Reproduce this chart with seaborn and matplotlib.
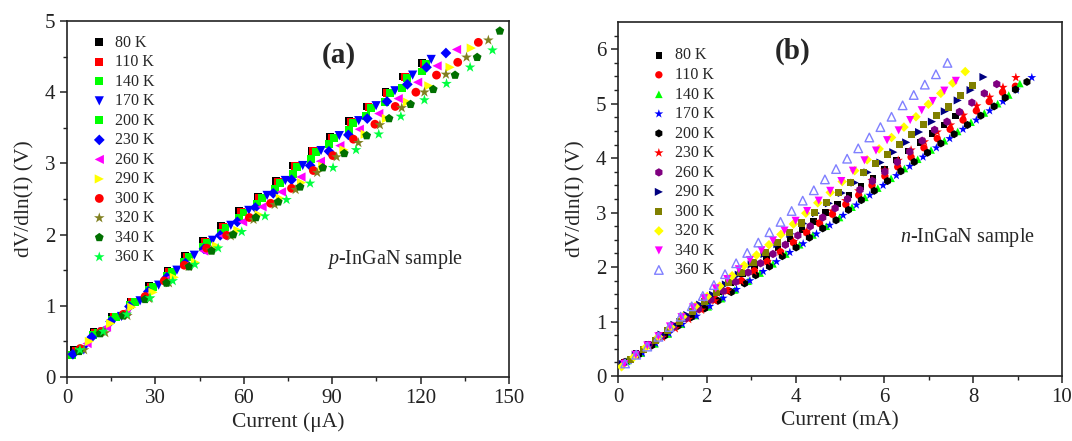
import numpy as np
import pandas as pd
import matplotlib
matplotlib.use("Agg")
import matplotlib.pyplot as plt
import seaborn as sns

# ---------------- panel (a): p-InGaN, current in uA ----------------
temps = ['80 K', '110 K', '140 K', '170 K', '200 K', '230 K',
         '260 K', '290 K', '300 K', '320 K', '340 K', '360 K']

a80_x = [2.5, 9.0, 15.3, 21.6, 27.9, 34.1, 40.0, 46.2, 52.4, 58.5, 64.7, 70.9, 76.8, 83.0, 89.2, 95.8, 101.7, 108.1, 114.1, 120.4]
a80_y = [0.38, 0.63, 0.85, 1.06, 1.28, 1.49, 1.70, 1.91, 2.12, 2.33, 2.53, 2.75, 2.97, 3.18, 3.37, 3.59, 3.80, 4.00, 4.22, 4.41]
a110_x = [3.1, 9.6, 15.9, 22.2, 28.5, 34.7, 40.6, 46.8, 53.0, 59.1, 65.3, 71.5, 77.4, 83.6, 89.8, 96.4, 102.3, 108.7, 114.7, 121.0]
a110_y = [0.37, 0.62, 0.84, 1.05, 1.27, 1.48, 1.69, 1.90, 2.11, 2.32, 2.52, 2.74, 2.96, 3.17, 3.36, 3.58, 3.79, 3.99, 4.21, 4.40]
a140_x = [3.9, 10.4, 16.7, 23.0, 29.3, 35.5, 41.4, 47.6, 53.8, 59.9, 66.1, 72.3, 78.2, 84.4, 90.6, 97.2, 103.1, 109.5, 115.5, 121.8]
a140_y = [0.37, 0.62, 0.84, 1.05, 1.26, 1.47, 1.68, 1.89, 2.10, 2.31, 2.52, 2.73, 2.95, 3.16, 3.36, 3.57, 3.78, 3.99, 4.20, 4.40]
a170_x = [5.7, 12.2, 18.5, 24.8, 31.1, 37.3, 43.2, 49.4, 55.6, 61.7, 67.9, 74.1, 80.0, 86.2, 92.4, 99.0, 104.9, 111.3, 117.3, 123.6]
a170_y = [0.38, 0.63, 0.85, 1.07, 1.29, 1.50, 1.71, 1.92, 2.13, 2.34, 2.55, 2.76, 2.97, 3.18, 3.39, 3.60, 3.81, 4.02, 4.24, 4.46]
a200_x = [1.6, 8.8, 15.1, 21.4, 27.7, 33.9, 39.8, 46.0, 52.2, 58.3, 64.5, 70.7, 76.6, 82.8, 89.0, 95.6, 101.5, 107.9, 113.6, 120.4]
a200_y = [0.31, 0.59, 0.80, 1.01, 1.22, 1.42, 1.62, 1.82, 2.02, 2.23, 2.43, 2.64, 2.85, 3.06, 3.27, 3.47, 3.67, 3.86, 4.06, 4.29]
a230_x = [2.0, 8.4, 14.8, 21.2, 27.6, 33.9, 40.2, 46.5, 52.0, 57.8, 63.9, 70.0, 76.2, 82.5, 88.9, 95.5, 101.9, 108.6, 115.5, 122.0, 128.6]
a230_y = [0.32, 0.56, 0.78, 0.99, 1.20, 1.40, 1.60, 1.80, 1.99, 2.18, 2.38, 2.58, 2.77, 2.97, 3.17, 3.40, 3.63, 3.87, 4.11, 4.35, 4.55]
a260_x = [6.8, 13.4, 20.0, 26.6, 33.2, 39.8, 46.4, 53.0, 59.6, 66.2, 72.8, 79.4, 86.0, 92.6, 99.2, 105.8, 112.4, 119.0, 125.6, 132.2]
a260_y = [0.47, 0.70, 0.92, 1.14, 1.36, 1.56, 1.77, 1.98, 2.18, 2.39, 2.60, 2.81, 3.03, 3.25, 3.48, 3.70, 3.91, 4.14, 4.37, 4.60]
a290_x = [7.6, 14.8, 22.0, 29.2, 36.4, 43.6, 50.8, 58.0, 65.2, 72.4, 79.6, 86.8, 94.0, 101.2, 108.4, 115.6, 122.8, 130.0, 137.2]
a290_y = [0.50, 0.75, 0.98, 1.19, 1.40, 1.61, 1.84, 2.06, 2.28, 2.51, 2.73, 2.96, 3.19, 3.41, 3.63, 3.86, 4.09, 4.35, 4.62]
a300_x = [4.5, 11.5, 19.1, 26.5, 33.0, 39.8, 47.4, 54.2, 61.9, 69.1, 76.2, 83.6, 90.2, 97.2, 104.5, 111.4, 118.4, 125.4, 132.6, 139.6]
a300_y = [0.40, 0.64, 0.88, 1.13, 1.35, 1.57, 1.81, 1.99, 2.24, 2.44, 2.65, 2.90, 3.11, 3.34, 3.55, 3.80, 4.00, 4.24, 4.42, 4.70]
a320_x = [5.8, 13.0, 20.5, 27.9, 34.6, 41.3, 48.9, 55.6, 63.3, 70.5, 77.6, 84.9, 91.5, 98.9, 106.2, 113.6, 121.3, 128.6, 135.6, 143.0]
a320_y = [0.38, 0.62, 0.86, 1.10, 1.32, 1.55, 1.78, 1.98, 2.21, 2.42, 2.63, 2.87, 3.09, 3.29, 3.54, 3.78, 4.00, 4.25, 4.49, 4.73]
a340_x = [4.1, 11.2, 19.1, 26.5, 33.8, 41.5, 49.1, 56.4, 64.1, 71.7, 79.1, 86.8, 94.1, 101.7, 109.3, 116.6, 124.3, 131.7, 139.2, 146.9]
a340_y = [0.36, 0.61, 0.86, 1.09, 1.32, 1.55, 1.77, 2.00, 2.24, 2.46, 2.67, 2.94, 3.14, 3.39, 3.63, 3.83, 4.04, 4.24, 4.49, 4.86]
a360_x = [4.4, 12.3, 20.3, 28.2, 35.9, 43.4, 51.3, 59.3, 67.2, 74.5, 82.5, 90.3, 98.1, 105.8, 113.3, 121.3, 128.8, 136.8, 144.4]
a360_y = [0.38, 0.64, 0.88, 1.11, 1.35, 1.58, 1.81, 2.04, 2.26, 2.49, 2.72, 2.94, 3.19, 3.41, 3.66, 3.89, 4.12, 4.35, 4.59]

# ---------------- panel (b): n-InGaN, current in mA ----------------
b80_x = [0.14, 0.40, 0.67, 0.94, 1.20, 1.47, 1.74, 2.00, 2.27, 2.54, 2.80, 3.07, 3.34, 3.60, 3.87, 4.14, 4.40, 4.67, 4.94, 5.20, 5.47, 5.74, 6.00, 6.27, 6.54, 6.80, 7.07, 7.34, 7.60]
b80_y = [0.26, 0.42, 0.58, 0.74, 0.90, 1.06, 1.23, 1.38, 1.55, 1.71, 1.87, 2.03, 2.19, 2.35, 2.52, 2.68, 2.84, 3.00, 3.16, 3.32, 3.48, 3.64, 3.80, 3.97, 4.13, 4.29, 4.45, 4.61, 4.77]
b110_x = [0.13, 0.43, 0.72, 1.01, 1.31, 1.60, 1.89, 2.19, 2.48, 2.78, 3.07, 3.36, 3.66, 3.95, 4.25, 4.54, 4.83, 5.13, 5.42, 5.72, 6.01, 6.30, 6.60, 6.89, 7.19, 7.48, 7.77, 8.07, 8.36, 8.66, 8.95]
b110_y = [0.25, 0.39, 0.56, 0.74, 0.92, 1.08, 1.24, 1.41, 1.57, 1.75, 1.93, 2.10, 2.28, 2.45, 2.63, 2.80, 2.97, 3.15, 3.32, 3.50, 3.67, 3.84, 4.02, 4.19, 4.36, 4.53, 4.70, 4.87, 5.04, 5.21, 5.32]
b140_x = [0.20, 0.52, 0.83, 1.13, 1.43, 1.73, 2.03, 2.33, 2.63, 2.93, 3.20, 3.49, 3.78, 4.09, 4.39, 4.69, 4.99, 5.27, 5.56, 5.85, 6.15, 6.45, 6.75, 7.05, 7.35, 7.65, 7.95, 8.25, 8.55, 8.80, 9.05]
b140_y = [0.27, 0.42, 0.59, 0.77, 0.95, 1.11, 1.27, 1.42, 1.58, 1.74, 1.89, 2.06, 2.24, 2.41, 2.59, 2.75, 2.91, 3.10, 3.28, 3.45, 3.63, 3.81, 3.98, 4.15, 4.32, 4.49, 4.66, 4.83, 5.00, 5.16, 5.37]
b170_x = [0.25, 0.55, 0.85, 1.15, 1.45, 1.77, 2.07, 2.37, 2.67, 2.97, 3.27, 3.57, 3.87, 4.17, 4.47, 4.77, 5.07, 5.37, 5.67, 5.97, 6.27, 6.57, 6.87, 7.17, 7.47, 7.77, 8.07, 8.37, 8.67, 8.97, 9.32]
b170_y = [0.28, 0.42, 0.60, 0.78, 0.95, 1.10, 1.28, 1.43, 1.59, 1.75, 1.92, 2.10, 2.27, 2.43, 2.61, 2.77, 2.95, 3.14, 3.32, 3.50, 3.68, 3.85, 4.02, 4.19, 4.36, 4.53, 4.70, 4.87, 5.04, 5.25, 5.48]
b200_x = [0.16, 0.46, 0.76, 1.05, 1.35, 1.65, 1.95, 2.25, 2.55, 2.85, 3.10, 3.41, 3.70, 4.01, 4.31, 4.61, 4.91, 5.19, 5.48, 5.77, 6.07, 6.37, 6.67, 6.97, 7.27, 7.57, 7.87, 8.17, 8.47, 8.72, 8.95, 9.21]
b200_y = [0.26, 0.39, 0.56, 0.74, 0.92, 1.08, 1.24, 1.38, 1.54, 1.70, 1.85, 2.01, 2.20, 2.36, 2.54, 2.71, 2.86, 3.05, 3.23, 3.40, 3.58, 3.76, 3.93, 4.10, 4.27, 4.44, 4.61, 4.78, 4.95, 5.11, 5.26, 5.40]
b230_x = [0.11, 0.41, 0.70, 1.00, 1.29, 1.59, 1.88, 2.18, 2.47, 2.77, 3.06, 3.36, 3.65, 3.95, 4.24, 4.54, 4.83, 5.13, 5.42, 5.72, 6.01, 6.31, 6.60, 6.90, 7.19, 7.49, 7.78, 8.08, 8.37, 8.67, 8.96]
b230_y = [0.23, 0.38, 0.55, 0.71, 0.87, 1.04, 1.21, 1.38, 1.56, 1.74, 1.92, 2.10, 2.28, 2.47, 2.65, 2.84, 3.03, 3.22, 3.40, 3.59, 3.78, 3.96, 4.15, 4.30, 4.48, 4.61, 4.79, 4.96, 5.12, 5.30, 5.48]
b260_x = [0.13, 0.41, 0.69, 0.97, 1.25, 1.53, 1.81, 2.09, 2.37, 2.65, 2.93, 3.21, 3.49, 3.77, 4.05, 4.33, 4.61, 4.89, 5.17, 5.45, 5.73, 6.01, 6.29, 6.57, 6.85, 7.13, 7.41, 7.69, 7.97, 8.25, 8.53]
b260_y = [0.24, 0.40, 0.57, 0.73, 0.90, 1.06, 1.23, 1.40, 1.56, 1.73, 1.90, 2.07, 2.24, 2.41, 2.58, 2.75, 2.91, 3.08, 3.25, 3.42, 3.58, 3.75, 3.93, 4.12, 4.32, 4.52, 4.67, 4.85, 5.02, 5.19, 5.36]
b290_x = [0.11, 0.40, 0.69, 0.98, 1.27, 1.56, 1.85, 2.14, 2.43, 2.72, 3.01, 3.30, 3.59, 3.88, 4.17, 4.46, 4.75, 5.04, 5.33, 5.62, 5.91, 6.20, 6.49, 6.78, 7.07, 7.36, 7.65, 7.94, 8.23]
b290_y = [0.22, 0.39, 0.57, 0.76, 0.94, 1.12, 1.31, 1.49, 1.68, 1.86, 2.05, 2.24, 2.42, 2.61, 2.80, 2.99, 3.17, 3.36, 3.55, 3.74, 3.92, 4.11, 4.29, 4.48, 4.67, 4.86, 5.06, 5.25, 5.49]
b300_x = [0.29, 0.57, 0.84, 1.12, 1.39, 1.67, 1.94, 2.22, 2.49, 2.77, 3.04, 3.32, 3.59, 3.87, 4.14, 4.42, 4.69, 4.97, 5.24, 5.52, 5.79, 6.07, 6.34, 6.62, 6.89, 7.17, 7.44, 7.72, 7.99]
b300_y = [0.31, 0.48, 0.65, 0.83, 1.00, 1.18, 1.36, 1.54, 1.72, 1.90, 2.08, 2.26, 2.45, 2.63, 2.81, 3.00, 3.18, 3.37, 3.55, 3.74, 3.90, 4.06, 4.25, 4.44, 4.61, 4.78, 4.94, 5.15, 5.34]
b320_x = [0.08, 0.36, 0.63, 0.91, 1.19, 1.46, 1.74, 2.01, 2.29, 2.57, 2.84, 3.12, 3.40, 3.67, 3.95, 4.23, 4.50, 4.78, 5.05, 5.33, 5.61, 5.88, 6.16, 6.44, 6.71, 6.99, 7.27, 7.54, 7.82]
b320_y = [0.17, 0.35, 0.53, 0.72, 0.90, 1.09, 1.28, 1.46, 1.65, 1.84, 2.03, 2.22, 2.41, 2.60, 2.79, 2.99, 3.18, 3.37, 3.57, 3.77, 3.97, 4.17, 4.38, 4.57, 4.76, 4.99, 5.19, 5.38, 5.59]
b340_x = [0.14, 0.40, 0.66, 0.91, 1.17, 1.43, 1.69, 1.94, 2.20, 2.46, 2.72, 2.97, 3.23, 3.49, 3.75, 4.00, 4.26, 4.52, 4.78, 5.03, 5.29, 5.55, 5.81, 6.06, 6.32, 6.58, 6.84, 7.09, 7.35, 7.61]
b340_y = [0.22, 0.39, 0.56, 0.73, 0.91, 1.08, 1.26, 1.43, 1.61, 1.78, 1.96, 2.13, 2.31, 2.49, 2.67, 2.85, 3.03, 3.22, 3.40, 3.58, 3.77, 3.96, 4.14, 4.33, 4.51, 4.70, 4.88, 5.05, 5.24, 5.42]
b360_x = [0.16, 0.41, 0.66, 0.91, 1.16, 1.41, 1.66, 1.91, 2.16, 2.41, 2.66, 2.91, 3.16, 3.41, 3.66, 3.91, 4.16, 4.41, 4.66, 4.91, 5.16, 5.41, 5.66, 5.91, 6.16, 6.41, 6.66, 6.91, 7.16, 7.42]
b360_y = [0.23, 0.39, 0.54, 0.72, 0.90, 1.09, 1.28, 1.47, 1.67, 1.87, 2.07, 2.26, 2.45, 2.64, 2.83, 3.03, 3.22, 3.41, 3.61, 3.80, 3.99, 4.18, 4.38, 4.57, 4.76, 4.97, 5.16, 5.35, 5.54, 5.75]

series_a = [(a80_x, a80_y), (a110_x, a110_y), (a140_x, a140_y), (a170_x, a170_y),
            (a200_x, a200_y), (a230_x, a230_y), (a260_x, a260_y), (a290_x, a290_y),
            (a300_x, a300_y), (a320_x, a320_y), (a340_x, a340_y), (a360_x, a360_y)]
series_b = [(b80_x, b80_y), (b110_x, b110_y), (b140_x, b140_y), (b170_x, b170_y),
            (b200_x, b200_y), (b230_x, b230_y), (b260_x, b260_y), (b290_x, b290_y),
            (b300_x, b300_y), (b320_x, b320_y), (b340_x, b340_y), (b360_x, b360_y)]

markers_a = ['s', 's', 's', 'v', 's', 'D', '<', '>', 'o', '*', 'p', '*']
colors_a = ['black', 'red', '#00ff00', '#0000ff', '#00ff00', '#0000ff',
            '#ff00ff', '#ffff00', 'red', '#808020', '#007000', '#00ff40']
sizes_a = [32, 32, 32, 44, 32, 30, 44, 44, 40, 64, 44, 64]

markers_b = ['s', 'o', '^', '*', 'h', '*', 'h', '>', 's', 'D', 'v', '^']
colors_b = ['black', 'red', '#00ff00', '#0000ff', 'black', 'red',
            '#800080', '#000080', '#808000', '#ffff00', '#ff00ff', '#8080ff']
sizes_b = [22, 28, 30, 45, 34, 50, 36, 34, 26, 24, 34, 38]

sns.set_style("ticks")
plt.rcParams['font.family'] = ['Liberation Serif', 'DejaVu Serif']
plt.rcParams['mathtext.fontset'] = 'custom'
plt.rcParams['mathtext.it'] = 'Liberation Serif:italic'
plt.rcParams['mathtext.rm'] = 'Liberation Serif'

fig = plt.figure(figsize=(10.72, 4.41), dpi=100)
ax1 = fig.add_axes([0.0625, 0.1451, 0.4123, 0.8073])
ax2 = fig.add_axes([0.5765, 0.1474, 0.4142, 0.8027])


def draw(ax, series, markers, colors, sizes, open_last=False):
    for i, (xs, ys) in enumerate(series):
        df = pd.DataFrame({'x': xs, 'y': ys})
        sns.scatterplot(data=df, x='x', y='y', marker=markers[i], color=colors[i],
                        s=sizes[i], edgecolor='none', linewidth=0, ax=ax,
                        label=temps[i], legend=False, zorder=3)
        if open_last and i == len(series) - 1:
            coll = ax.collections[-1]
            coll.set_facecolor('none')
            coll.set_edgecolor(colors[i])
            coll.set_linewidth(1.0)


draw(ax1, series_a, markers_a, colors_a, sizes_a)
draw(ax2, series_b, markers_b, colors_b, sizes_b, open_last=True)

for ax in (ax1, ax2):
    for sp in ax.spines.values():
        sp.set_visible(True)
        sp.set_linewidth(1.2)
        sp.set_color('#222222')
    ax.tick_params(which='major', direction='out', length=5, width=1.1,
                   labelsize=15, top=False, right=False, colors='#222222')
    ax.tick_params(which='minor', direction='out', length=3, width=1.0,
                   top=False, right=False, colors='#222222')
    ax.set_ylabel('dV/dln(I) (V)', fontsize=15.5, labelpad=7)

ax1.set_xlim(0, 150)
ax1.set_ylim(0, 5)
ax1.set_xticks([0, 30, 60, 90, 120, 150])
ax1.set_xticks(np.arange(15, 150, 30), minor=True)
ax1.set_yticks([0, 1, 2, 3, 4, 5])
ax1.set_yticks(np.arange(0.5, 5, 1), minor=True)
ax1.set_xlabel('Current (\u03bcA)', fontsize=15.5, labelpad=3)

ax2.set_xlim(0, 10)
ax2.set_ylim(0, 6.5)
ax2.set_xticks([0, 2, 4, 6, 8, 10])
ax2.set_xticks([1, 3, 5, 7, 9], minor=True)
ax2.set_yticks([0, 1, 2, 3, 4, 5, 6])
ax2.set_yticks(np.arange(0.25, 6.5, 0.25), minor=True)
ax2.set_xlabel('Current (mA)', fontsize=15.5, labelpad=3)

ax1.text(0.615, 0.904, '(a)', transform=ax1.transAxes, fontsize=21,
         fontweight='bold', ha='center', va='center')
ax1.text(0.742, 0.329, r'$\it{p}$-InGaN sample', transform=ax1.transAxes,
         fontsize=14.5, ha='center', va='center')
ax2.text(0.393, 0.916, '(b)', transform=ax2.transAxes, fontsize=21,
         fontweight='bold', ha='center', va='center')
ax2.text(0.787, 0.390, r'$\it{n}$-InGaN sample', transform=ax2.transAxes,
         fontsize=14.5, ha='center', va='center')

leg_kw = dict(frameon=False, fontsize=11.5, handlelength=1.0, handletextpad=0.5,
              labelspacing=0.22, borderpad=0, borderaxespad=0, loc='upper left',
              scatterpoints=1)
ax1.legend(bbox_to_anchor=(0.055, 0.962), **leg_kw)
ax2.legend(bbox_to_anchor=(0.074, 0.928), **leg_kw)

fig.savefig('out.png', dpi=100)
